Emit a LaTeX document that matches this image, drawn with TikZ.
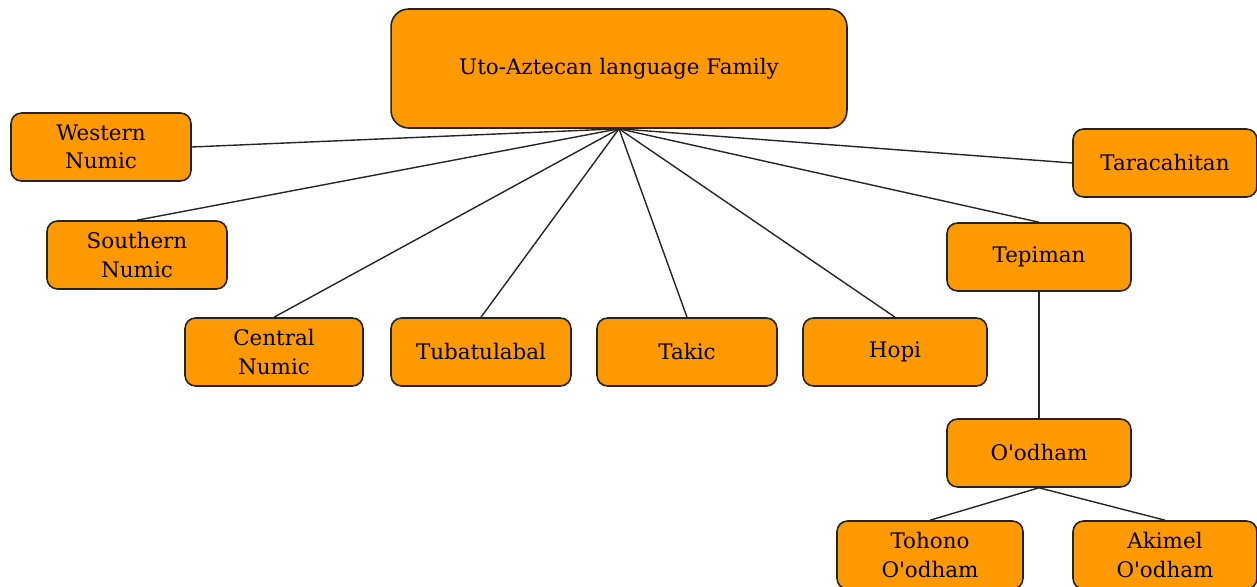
\documentclass[tikz,border=0pt]{standalone}
\usepackage{fontspec}
\setmainfont{DejaVu Serif}
\usepackage{xcolor}
\usepackage{tikz}
\usetikzlibrary{positioning}
\definecolor{langfill}{RGB}{255,153,0}
\definecolor{langedge}{RGB}{35,35,35}

\begin{document}
\begin{tikzpicture}[x=0.02cm, y=-0.02cm,
  font=\fontsize{12.2}{16}\selectfont,
  langbox/.style={draw=langedge, fill=langfill, line width=0.9pt, rounded corners=6pt,
    minimum width=3.6cm, minimum height=1.36cm, align=center, inner sep=2pt},
  branch/.style={draw=black!85, line width=0.8pt}]

% picture in pixel units of the reference: x 0..1257, y 0..587 (downwards)
\useasboundingbox (0,0) rectangle (1257,587);

%% ── root ─────────────────────────────────────────────────────────
\node[langbox, minimum width=9.12cm, minimum height=2.38cm, rounded corners=10pt] (family) at (619,68.5) {Uto-Aztecan language Family};

%% ── first level branches ─────────────────────────────────────────
\node[langbox] (wnumic) at (101,147) {Western\\Numic};
\node[langbox] (snumic) at (137,255) {Southern\\Numic};
\node[langbox, minimum width=3.56cm] (cnumic) at (274,352) {Central\\Numic};
\node[langbox] (tubatulabal) at (481,352) {Tubatulabal};
\node[langbox] (takic) at (687,352) {Takic};
\node[langbox, minimum width=3.68cm] (hopi) at (895,352) {Hopi};
\node[langbox, minimum width=3.68cm] (tepiman) at (1039,257) {Tepiman};
\node[langbox, minimum width=3.68cm] (taracahitan) at (1165,163) {Taracahitan};

%% ── Tepiman subtree ──────────────────────────────────────────────
\node[langbox, minimum width=3.68cm] (oodham) at (1039,453) {O\textquotesingle odham};
\node[langbox, minimum width=3.72cm] (tohono) at (930,555) {Tohono\\O\textquotesingle odham};
\node[langbox, minimum width=3.68cm] (akimel) at (1165,555) {Akimel\\O\textquotesingle odham};

%% ── connectors ───────────────────────────────────────────────────
\draw[branch] (family.south) -- (wnumic.east);
\draw[branch] (family.south) -- (snumic.north);
\draw[branch] (family.south) -- (cnumic.north);
\draw[branch] (family.south) -- (tubatulabal.north);
\draw[branch] (family.south) -- (takic.north);
\draw[branch] (family.south) -- (hopi.north);
\draw[branch] (family.south) -- (tepiman.north);
\draw[branch] (family.south) -- (taracahitan.west);
\draw[branch] (tepiman.south) -- (oodham.north);
\draw[branch] (oodham.south) -- (tohono.north);
\draw[branch] (oodham.south) -- (akimel.north);

\end{tikzpicture}
\end{document}
